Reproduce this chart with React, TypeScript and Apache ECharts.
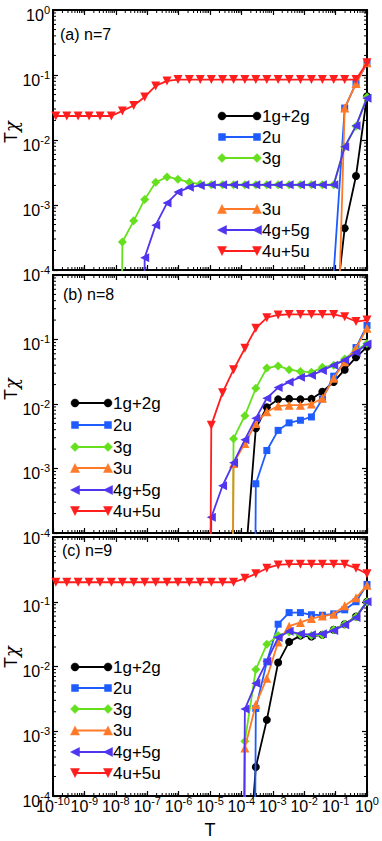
import React, { useEffect, useRef } from 'react';
import * as echarts from 'echarts';

// Temperature grid (ascending). Each series list below is aligned to the END of this grid
// (its last value belongs to T = 1). A value of 0 means the quantity vanishes there.
const T = [
  1.23e-10, 2.75e-10, 6.31e-10, 1.41e-9, 3.16e-9, 7.24e-9, 1.62e-8, 3.72e-8, 8.32e-8,
  1.86e-7, 4.27e-7, 9.55e-7, 2.19e-6, 4.9e-6, 1.1e-5, 2.51e-5, 5.62e-5, 1.29e-4,
  2.88e-4, 6.46e-4, 1.48e-3, 3.31e-3, 7.59e-3, 0.017, 0.038, 0.087, 0.195, 0.447, 1,
];

const NAMES = ['1g+2g', '2u', '3g', '3u', '4g+5g', '4u+5u'];

// (a) n=7
const a1g2g = [1.4e-5, 4.4e-4, 2.8e-3, 0.047];
const a2u = [9e-5, 0.031, 0.075, 0.15];
const a3g = [0, 2.7e-4, 5.7e-4, 1.22e-3, 2.23e-3, 2.7e-3, 2.5e-3, 2.23e-3, 2.1e-3,
  2.05e-3, 2.05e-3, 2.05e-3, 2.05e-3, 2.05e-3, 2.05e-3, 2.05e-3, 2.05e-3, 2.05e-3, 2.05e-3, 2.05e-3, 2.05e-3,
  7.8e-3, 0.0163, 0.046];
const a3u = [5e-8, 0.031, 0.074, 0.155];
const a4g5g = [0, 1.55e-4, 4.9e-4, 1.07e-3, 1.58e-3, 1.87e-3, 2.0e-3,
  2.04e-3, 2.04e-3, 2.04e-3, 2.04e-3, 2.04e-3, 2.04e-3, 2.04e-3, 2.04e-3, 2.04e-3, 2.04e-3, 2.04e-3, 2.04e-3,
  7.9e-3, 0.0165, 0.044];
const a4u5u = [0.0234, 0.0234, 0.0234, 0.0234, 0.0234, 0.0234, 0.028, 0.034, 0.046, 0.068, 0.081,
  0.085, 0.085, 0.085, 0.085, 0.085, 0.085, 0.085, 0.085, 0.085, 0.085, 0.085, 0.085, 0.085, 0.085, 0.085, 0.085, 0.085,
  0.155];

// (b) n=8
const b1g2g = [2.9e-5, 4.2e-3, 8.9e-3, 0.0118, 0.012, 0.0118, 0.012, 0.0155, 0.022, 0.034, 0.053, 0.077];
const b2u = [0, 5.8e-4, 1.9e-3, 3.9e-3, 5.1e-3, 5.6e-3, 6.3e-3, 0.012, 0.027, 0.045, 0.075, 0.165];
const b3g = [0, 2.9e-3, 6.6e-3, 0.0175, 0.036, 0.039, 0.034, 0.032, 0.031, 0.037, 0.04, 0.05, 0.068, 0.087];
const b3u = [0, 1.2e-3, 2.45e-3, 5.0e-3, 7.6e-3, 9.3e-3, 9.6e-3, 9.6e-3, 0.01, 0.0123, 0.025, 0.045, 0.073, 0.15];
const b4g5g = [0, 1.75e-4, 5.4e-4, 1.23e-3, 2.8e-3, 6.0e-3, 0.0123, 0.018, 0.022, 0.026, 0.028, 0.033, 0.04, 0.048, 0.063, 0.085];
const b4u5u = [0, 4.7e-3, 0.015, 0.034, 0.073, 0.149, 0.218, 0.24, 0.245, 0.245, 0.245, 0.245, 0.245, 0.225, 0.19, 0.2];

// (c) n=9
const c1g2g = [1.5e-6, 2.8e-4, 1.5e-3, 0.0115, 0.024, 0.03, 0.029, 0.031, 0.037, 0.045, 0.059, 0.1];
const c2u = [0, 2.25e-3, 0.0118, 0.045, 0.068, 0.068, 0.063, 0.062, 0.065, 0.075, 0.1, 0.185];
const c3g = [0, 7e-4, 0.009, 0.022, 0.03, 0.034, 0.031, 0.03, 0.031, 0.037, 0.045, 0.058, 0.1];
const c3u = [0, 5.5e-4, 2.6e-3, 6.6e-3, 0.024, 0.042, 0.048, 0.055, 0.06, 0.064, 0.087, 0.115, 0.18];
const c4g5g = [0, 2.2e-3, 5.5e-3, 0.012, 0.028, 0.035, 0.032, 0.031, 0.032, 0.036, 0.044, 0.057, 0.1];
const c4u5u = [0.2, 0.2, 0.2, 0.2, 0.2, 0.2, 0.2, 0.2, 0.2, 0.2, 0.2, 0.2, 0.2, 0.2, 0.2, 0.2, 0.2,
  0.23, 0.27, 0.33, 0.37, 0.38, 0.38, 0.38, 0.38, 0.38, 0.38, 0.33, 0.27];

const PANELS = [
  { label: '(a) n=7', series: [a1g2g, a2u, a3g, a3u, a4g5g, a4u5u] },
  { label: '(b) n=8', series: [b1g2g, b2u, b3g, b3u, b4g5g, b4u5u] },
  { label: '(c) n=9', series: [c1g2g, c2u, c3g, c3u, c4g5g, c4u5u] },
];

const X_TICKS = [-10, -9, -8, -7, -6, -5, -4, -3, -2, -1, 0];
const Y_TICKS = [-4, -3, -2, -1, 0];

const COLORS = ['#000000', '#1f5cff', '#66e01e', '#ff7a28', '#4f35ee', '#ff1e1e'];
const SYMBOLS = ['circle', 'rect', 'diamond', 'triangle', 'path://M0,5L10,0L10,10Z', 'path://M0,0L10,0L5,10Z'];
const SIZES = [8, 7, 9, 9, 9, 9];

const FONT = '"Liberation Sans", Arial, Helvetica, sans-serif';

// layout
const GRID_LEFT = 53;
const GRID_W = 314;
const GRIDS = [
  { top: 10, h: 260 },
  { top: 275, h: 258 },
  { top: 537, h: 259 },
];
const LEGENDS = [
  { x1: 222, x2: 257, rows: [116, 137, 158, 209, 230, 251] },
  { x1: 75, x2: 108, rows: [403, 425, 447, 468, 490, 511] },
  { x1: 75, x2: 108, rows: [667, 688, 709, 730.5, 752, 773] },
];
const PANEL_LABEL_POS = [
  { x: 60, y: 34 },
  { x: 63, y: 294 },
  { x: 62, y: 550 },
];
const YTITLE_Y = [132, 389, 657];

function markerShape(j: number, cx: number, cy: number, color: string) {
  const s = SIZES[j];
  const h = s / 2;
  const style = { fill: color, stroke: color, lineWidth: 0.5 };
  if (j === 0) return { type: 'circle', shape: { cx, cy, r: h }, style, z: 101 };
  if (j === 1) return { type: 'rect', shape: { x: cx - h, y: cy - h, width: s, height: s }, style, z: 101 };
  let pts: number[][];
  if (j === 2) pts = [[cx, cy - h], [cx + h, cy], [cx, cy + h], [cx - h, cy]];
  else if (j === 3) pts = [[cx, cy - h], [cx + h, cy + h], [cx - h, cy + h]];
  else if (j === 4) pts = [[cx - h, cy], [cx + h, cy - h], [cx + h, cy + h]];
  else pts = [[cx - h, cy - h], [cx + h, cy - h], [cx, cy + h]];
  return { type: 'polygon', shape: { points: pts }, style, z: 101 };
}

const App: React.FC = () => {
  const ref = useRef<HTMLDivElement>(null);

  useEffect(() => {
    if (!ref.current) return;
    const chart = echarts.init(ref.current, undefined, { renderer: 'svg' });

    const rich = {
      b: { fontSize: 16, fontFamily: FONT, color: '#000', lineHeight: 16, padding: [6, 0, 0, 0] },
      s: { fontSize: 11, fontFamily: FONT, color: '#000', lineHeight: 12, verticalAlign: 'top' },
    };
    const fmt = (v: number) => `{b|10}{s|${v}}`;

    const minorX: number[][] = [];
    for (let e = X_TICKS[0]; e < 0; e++) for (let m = 2; m <= 9; m++) minorX.push([e + Math.log10(m), 0]);
    const minorY: number[][] = [];
    for (let e = Y_TICKS[0]; e < 0; e++) for (let m = 2; m <= 9; m++) minorY.push([e + Math.log10(m), 1]);

    const grid: any[] = [];
    const xAxis: any[] = [];
    const yAxis: any[] = [];
    const series: any[] = [];
    const graphic: any[] = [];

    const lineAxis = { show: true, onZero: false, lineStyle: { color: '#000', width: 2 } };
    const tick = { show: true, inside: true, length: 5, lineStyle: { color: '#000', width: 1.2 } };

    GRIDS.forEach((g, i) => {
      grid.push({ left: GRID_LEFT, top: g.top, width: GRID_W, height: g.h, containLabel: false });
      xAxis.push({
        type: 'value', gridIndex: i, min: X_TICKS[0], max: 0, interval: 1, position: 'bottom',
        axisLine: lineAxis, axisTick: tick, splitLine: { show: false },
        axisLabel: i === 2
          ? { show: true, margin: -1, formatter: fmt, rich }
          : { show: false },
      });
      xAxis.push({
        type: 'value', gridIndex: i, min: X_TICKS[0], max: 0, interval: 1, position: 'top',
        axisLine: lineAxis, axisTick: tick, splitLine: { show: false }, axisLabel: { show: false },
      });
      yAxis.push({
        type: 'value', gridIndex: i, min: Y_TICKS[0], max: 0, interval: 1, position: 'left',
        axisLine: lineAxis, axisTick: tick, splitLine: { show: false },
        axisLabel: {
          show: true, margin: 3, rich, padding: [4, 0, 0, 0],
          formatter: (v: number) => (i > 0 && v === 0 ? '' : fmt(v)),
        },
      });
      yAxis.push({
        type: 'value', gridIndex: i, min: Y_TICKS[0], max: 0, interval: 1, position: 'right',
        axisLine: lineAxis, axisTick: tick, splitLine: { show: false }, axisLabel: { show: false },
      });

      // minor (logarithmic) ticks on all four sides
      series.push({
        type: 'custom', xAxisIndex: 2 * i, yAxisIndex: 2 * i, silent: true, z: 5,
        data: [...minorX, ...minorY],
        renderItem: (_p: any, api: any) => {
          const v = api.value(0);
          const f = api.value(1);
          const st = { stroke: '#000', lineWidth: 1 };
          if (f === 0) {
            const b = api.coord([v, Y_TICKS[0]]);
            const t = api.coord([v, 0]);
            return {
              type: 'group', children: [
                { type: 'line', shape: { x1: b[0], y1: b[1], x2: b[0], y2: b[1] - 3 }, style: st },
                { type: 'line', shape: { x1: t[0], y1: t[1], x2: t[0], y2: t[1] + 3 }, style: st },
              ],
            };
          }
          const l = api.coord([X_TICKS[0], v]);
          const r = api.coord([0, v]);
          return {
            type: 'group', children: [
              { type: 'line', shape: { x1: l[0], y1: l[1], x2: l[0] + 3, y2: l[1] }, style: st },
              { type: 'line', shape: { x1: r[0], y1: r[1], x2: r[0] - 3, y2: r[1] }, style: st },
            ],
          };
        },
      });

      PANELS[i].series.forEach((ys, j) => {
        const off = T.length - ys.length;
        const data = ys.map((y, k) => {
          const lx = Math.log10(T[off + k]);
          if (y <= 0) return { value: [lx, -30], symbolSize: 0 };
          const ly = Math.log10(y);
          if (ly < Y_TICKS[0]) return { value: [lx, ly], symbolSize: 0 };
          return { value: [lx, ly] };
        });
        series.push({
          type: 'line', name: NAMES[j], xAxisIndex: 2 * i, yAxisIndex: 2 * i,
          data, clip: true, showAllSymbol: true,
          symbol: SYMBOLS[j], symbolSize: SIZES[j],
          lineStyle: { color: COLORS[j], width: 1.8 },
          itemStyle: { color: COLORS[j] },
          z: 10 + j,
        });
      });

      // legend
      const L = LEGENDS[i];
      NAMES.forEach((nm, j) => {
        const y = L.rows[j];
        graphic.push({ type: 'line', shape: { x1: L.x1, y1: y, x2: L.x2, y2: y }, style: { stroke: COLORS[j], lineWidth: 1.8 }, z: 100 });
        graphic.push(markerShape(j, L.x1, y, COLORS[j]));
        graphic.push(markerShape(j, L.x2, y, COLORS[j]));
        graphic.push({
          type: 'text', x: L.x2 + 5, y, z: 102,
          style: { text: nm, fontSize: 17, fontFamily: FONT, fill: '#000', verticalAlign: 'middle', align: 'left' },
        });
      });

      graphic.push({
        type: 'text', x: PANEL_LABEL_POS[i].x, y: PANEL_LABEL_POS[i].y, z: 102,
        style: { text: PANELS[i].label, fontSize: 16, fontFamily: FONT, fill: '#000', verticalAlign: 'middle', align: 'left' },
      });
      graphic.push({
        type: 'text', x: 11, y: YTITLE_Y[i], rotation: Math.PI / 2, z: 102,
        style: {
          text: '{t|T}{c|χ}', verticalAlign: 'middle', align: 'center',
          rich: {
            t: { fontSize: 18, fontFamily: FONT, color: '#000' },
            c: { fontSize: 18, fontFamily: '"DejaVu Serif", serif', fontStyle: 'italic', color: '#000' },
          },
        },
      });
    });

    graphic.push({
      type: 'text', x: GRID_LEFT + GRID_W / 2, y: 830, z: 102,
      style: { text: 'T', fontSize: 18, fontFamily: FONT, fill: '#000', verticalAlign: 'middle', align: 'center' },
    });

    chart.setOption({
      animation: false,
      backgroundColor: '#ffffff',
      textStyle: { fontFamily: FONT },
      grid, xAxis, yAxis, series, graphic,
    });

    return () => chart.dispose();
  }, []);

  return <div ref={ref} style={{ position: 'absolute', left: 0, top: 0, width: 382, height: 841 }} />;
};

export default App;
